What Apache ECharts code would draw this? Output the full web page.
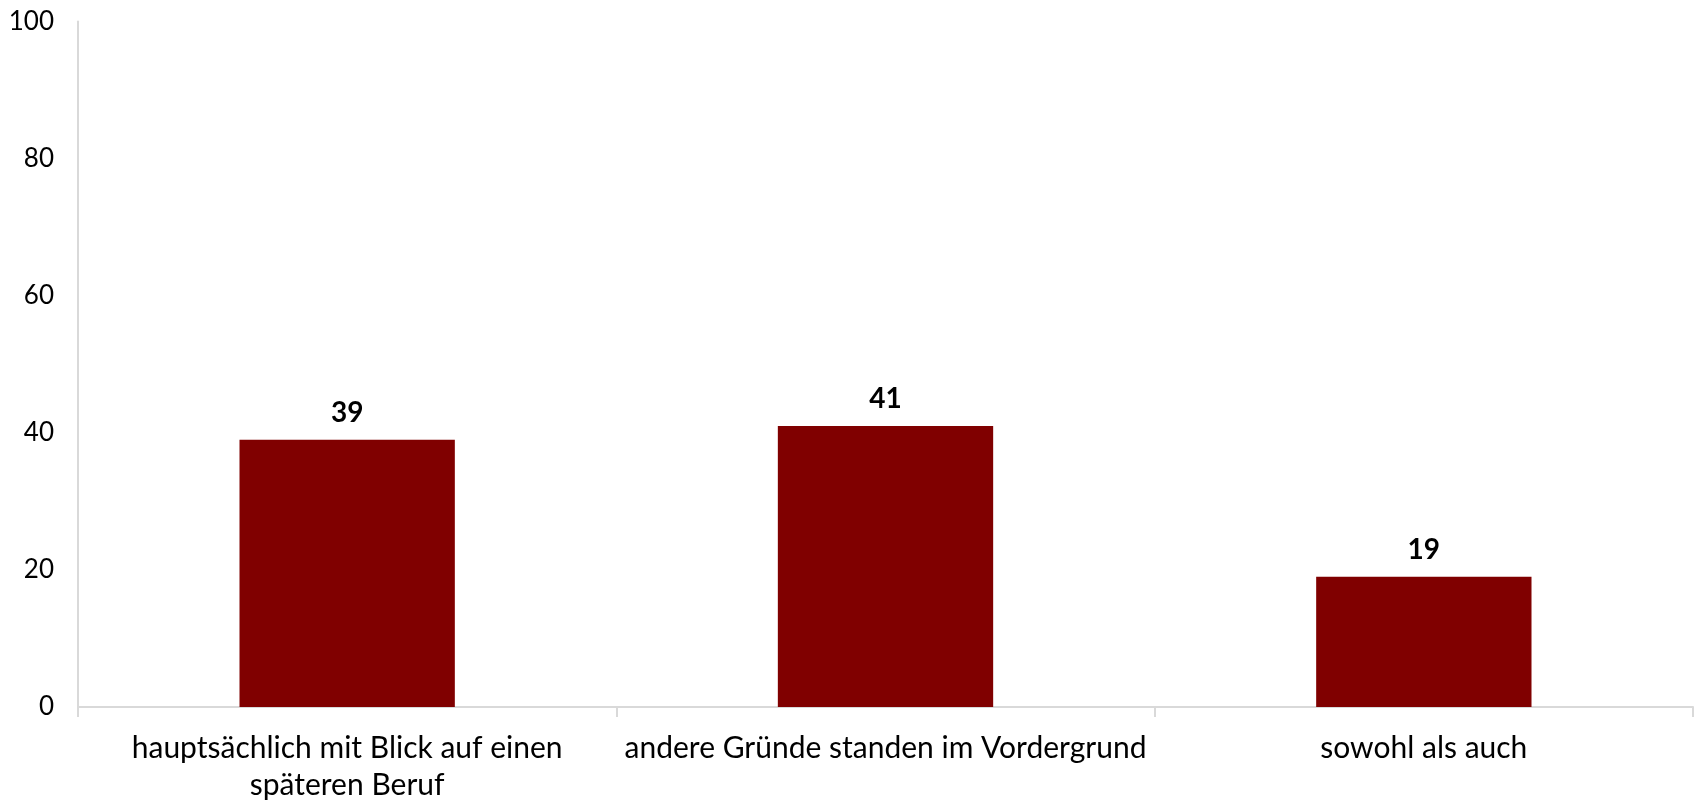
<!DOCTYPE html>
<html>
<head>
<meta charset="utf-8">
<script src="https://cdn.jsdelivr.net/npm/echarts@6/dist/echarts.min.js"></script>
<style>
html,body{margin:0;padding:0;background:#fff;}
#chart{width:1696px;height:803px;}
</style>
</head>
<body>
<div id="chart"></div>
<script>
const categories = ["hauptsächlich mit Blick auf einen\nspäteren Beruf", "andere Gründe standen im Vordergrund", "sowohl als auch"];
const values = [39, 41, 19];
const yTicks = [0, 20, 40, 60, 80, 100];

const FONT = "Lato";
const chart = echarts.init(document.getElementById('chart'), null, {renderer: 'canvas'});
chart.setOption({
  backgroundColor: '#fff',
  animation: false,
  grid: {left: 78, right: 3, top: 21.5, bottom: 96, containLabel: false, outerBoundsMode: 'none'},
  xAxis: {
    type: 'category',
    data: categories,
    axisLine: {show: true, lineStyle: {color: '#d9d9d9', width: 2}},
    axisTick: {show: true, alignWithLabel: false, length: 10, lineStyle: {color: '#d9d9d9', width: 2}},
    axisLabel: {color: '#000', fontFamily: FONT, fontSize: 30, margin: 23, lineHeight: 37, interval: 0}
  },
  yAxis: {
    type: 'value',
    min: yTicks[0], max: yTicks[yTicks.length - 1], interval: 20,
    axisLine: {show: true, lineStyle: {color: '#d9d9d9', width: 2}},
    axisTick: {show: false},
    splitLine: {show: false},
    axisLabel: {color: '#000', fontFamily: FONT, fontSize: 26, margin: 24}
  },
  series: [{
    type: 'bar',
    data: values,
    barWidth: '40%',
    itemStyle: {color: '#800000'},
    label: {show: true, position: 'top', distance: 13, color: '#000', fontFamily: FONT, fontWeight: 'bold', fontSize: 28}
  }]
});
</script>
</body>
</html>
